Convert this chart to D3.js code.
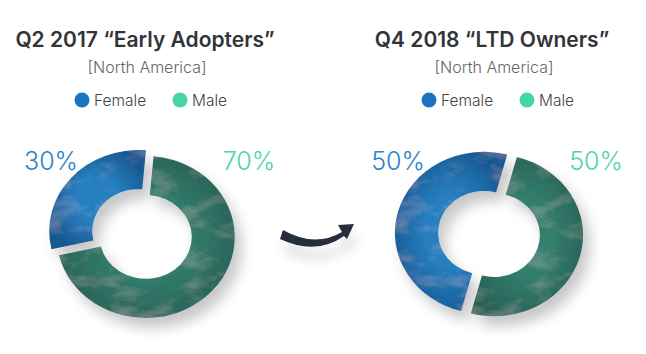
<!DOCTYPE html>
<html>
<head>
<meta charset="utf-8">
<script src="https://cdn.jsdelivr.net/npm/d3@7"></script>
<style>
  body { margin: 0; background: #fff; }
  text { font-family: Inter, "Open Sans", sans-serif; }
</style>
</head>
<body>
<svg id="chart" width="646" height="354"></svg>
<script>
var titles = ["Q2 2017 \u201cEarly Adopters\u201d", "Q4 2018 \u201cLTD Owners\u201d"];
var region = "[North America]";
var categories = ["Female", "Male"];
var female = [30, 50];
var male = [70, 50];
var startDeg = [257, 195];   // where the female slice starts, clockwise from 12 o'clock

var svg = d3.select('#chart');
var defs = svg.append('defs');

// soft drop shadow + faint cloudy texture on the rings
var f = defs.append('filter').attr('id', 'ring').attr('x', '-30%').attr('y', '-30%').attr('width', '160%').attr('height', '160%');
f.append('feTurbulence').attr('type', 'fractalNoise').attr('baseFrequency', '0.03 0.05')
  .attr('numOctaves', 4).attr('seed', 11).attr('result', 'noise');
f.append('feColorMatrix').attr('in', 'noise').attr('type', 'matrix')
  .attr('values', '0 0 0 0 1  0 0 0 0 1  0 0 0 0 1  0.9 0 0 0 -0.45').attr('result', 'light');
f.append('feComposite').attr('in', 'light').attr('in2', 'SourceGraphic').attr('operator', 'in').attr('result', 'lightIn');
f.append('feComponentTransfer').attr('in', 'lightIn').attr('result', 'lightSoft')
  .append('feFuncA').attr('type', 'linear').attr('slope', 0.35);
f.append('feGaussianBlur').attr('in', 'SourceAlpha').attr('stdDeviation', 7).attr('result', 'blur');
f.append('feOffset').attr('in', 'blur').attr('dx', 7).attr('dy', 11).attr('result', 'off');
f.append('feComponentTransfer').attr('in', 'off').attr('result', 'shadow')
  .append('feFuncA').attr('type', 'linear').attr('slope', 0.22);
var m = f.append('feMerge');
m.append('feMergeNode').attr('in', 'shadow');
m.append('feMergeNode').attr('in', 'SourceGraphic');
m.append('feMergeNode').attr('in', 'lightSoft');

var arrowShadow = defs.append('filter').attr('id', 'arrowShadow').attr('x', '-40%').attr('y', '-40%').attr('width', '180%').attr('height', '220%');
arrowShadow.append('feDropShadow').attr('dx', 4).attr('dy', 12).attr('stdDeviation', 6)
  .attr('flood-color', '#000').attr('flood-opacity', 0.15);

function grad(id, inner, outer) {
  var g = defs.append('radialGradient').attr('id', id).attr('cx', '50%').attr('cy', '50%').attr('r', '55%');
  g.append('stop').attr('offset', '40%').attr('stop-color', inner);
  g.append('stop').attr('offset', '100%').attr('stop-color', outer);
}
grad('gFemale', '#2680c0', '#175891');
grad('gMale', '#317f6e', '#2a6257');
var fills = ['url(#gFemale)', 'url(#gMale)'];

var legendColor = d3.scaleOrdinal().domain(categories).range(['#1b74c2', '#45d6a8']);
var labelColor = d3.scaleOrdinal().domain(categories).range(['#2b82c4', '#4dd4aa']);

var cx = d3.scaleOrdinal().domain([0, 1]).range([142, 489]);
var cy = 234, rOuter = 89, rInner = 46, squash = 0.91, explode = 5;

var arc = d3.arc().innerRadius(rInner).outerRadius(rOuter);

titles.forEach(function(t, i) {
  var x = cx(i);
  var g = svg.append('g');

  g.append('text').attr('x', x + 3).attr('y', 47).attr('text-anchor', 'middle')
    .attr('font-size', 21).attr('font-weight', 600).attr('fill', '#333436').text(t);
  g.append('text').attr('x', x + 5).attr('y', 73).attr('text-anchor', 'middle')
    .attr('font-size', 16).attr('font-weight', 300).attr('fill', '#666').text(region);

  var leg = g.append('g').attr('transform', 'translate(' + (x - 60) + ',100)');
  categories.forEach(function(c, k) {
    var lx = k * 98;
    leg.append('circle').attr('cx', lx).attr('cy', 0).attr('r', 7.5).attr('fill', legendColor(c));
    leg.append('text').attr('x', lx + 12).attr('y', 5.5).attr('font-size', 15.5).attr('font-weight', 300)
      .attr('fill', '#444').text(c);
  });

  var pie = d3.pie().sort(null)
    .startAngle(startDeg[i] * Math.PI / 180)
    .endAngle((startDeg[i] + 360) * Math.PI / 180);
  var slices = pie([female[i], male[i]]);

  var ring = g.append('g').attr('transform', 'translate(' + x + ',' + cy + ') scale(1,' + squash + ')')
    .attr('filter', 'url(#ring)');
  ring.selectAll('path').data(slices).enter().append('path')
    .attr('d', arc)
    .attr('fill', function(d, k) { return fills[k]; })
    .attr('transform', function(d) {
      var a = (d.startAngle + d.endAngle) / 2;
      return 'translate(' + (Math.sin(a) * explode) + ',' + (-Math.cos(a) * explode) + ')';
    });

  var vals = [female[i], male[i]];
  g.append('text').attr('x', x - 91).attr('y', 170).attr('text-anchor', 'middle')
    .attr('font-size', 25).attr('font-weight', 300).attr('fill', labelColor('Female')).text(vals[0] + '%');
  g.append('text').attr('x', x + 107).attr('y', 170).attr('text-anchor', 'middle')
    .attr('font-size', 25).attr('font-weight', 300).attr('fill', labelColor('Male')).text(vals[1] + '%');
});

// curved arrow between the two rings
var arrow = svg.append('g').attr('filter', 'url(#arrowShadow)');
var body = d3.path();
body.moveTo(283, 230);
body.quadraticCurveTo(315, 248, 342, 232);
body.lineTo(338, 225);
body.lineTo(354, 224);
body.lineTo(347, 239);
body.lineTo(344, 236);
body.quadraticCurveTo(316, 256, 280, 239);
body.closePath();
arrow.append('path').attr('d', body.toString()).attr('fill', '#262d3b');
</script>
</body>
</html>
